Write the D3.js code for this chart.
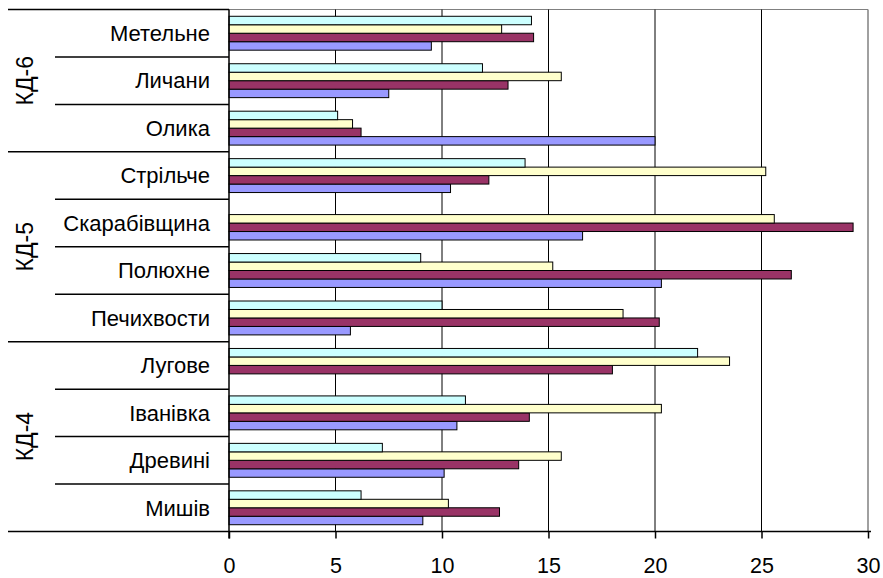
<!DOCTYPE html>
<html><head><meta charset="utf-8">
<script src="https://cdn.jsdelivr.net/npm/d3@7"></script>
<style>body{margin:0;background:#fff}svg{display:block}text{font-family:"Liberation Sans",Arial,sans-serif;fill:#000}</style>
</head><body><svg id="c" width="883" height="578"></svg>
<script>
// categories listed bottom to top (as in the source sheet)
const categories = ["Мишів","Древині","Іванівка","Лугове","Печихвости","Полюхне","Скарабівщина","Стрільче","Олика","Личани","Метельне"];
const groupNames = ["КД-4","КД-5","КД-6"];
const groupSizes = [4,4,3];
const seriesNames = ["Ряд1","Ряд2","Ряд3","Ряд4"];
const series1 = [9.1,10.1,10.7,null,5.7,20.3,16.6,10.4,20.0,7.5,9.5];
const series2 = [12.7,13.6,14.1,18.0,20.2,26.4,29.3,12.2,6.2,13.1,14.3];
const series3 = [10.3,15.6,20.3,23.5,18.5,15.2,25.6,25.2,5.8,15.6,12.8];
const series4 = [6.2,7.2,11.1,22.0,10.0,9.0,null,13.9,5.1,11.9,14.2];
const seriesColors = ["#9999FF","#993366","#FFFFCC","#CCFFFF"];
const xTicks = [0,5,10,15,20,25,30];

const svg = d3.select("#c");
const L = 229, R = 868, T = 9.5, B = 531.5;
const x = d3.scaleLinear().domain([0,30]).range([L,R]);
const y = d3.scaleBand().domain(categories.slice().reverse()).range([T,B]).padding(0);
const ySub = d3.scaleBand().domain(seriesNames.slice().reverse()).range([0,y.bandwidth()]).paddingInner(0).paddingOuter(0.8);
const allSeries = [series1,series2,series3,series4];

// plot border (gray top and right)
svg.append("line").attr("x1",L).attr("x2",R).attr("y1",T).attr("y2",T).attr("stroke","#808080").attr("stroke-width",1);
svg.append("line").attr("x1",R).attr("x2",R).attr("y1",T).attr("y2",B).attr("stroke","#808080").attr("stroke-width",1.5);
// gridlines
svg.append("g").selectAll("line").data(xTicks.filter(t=>t>0&&t<30)).join("line")
  .attr("x1",d=>x(d)).attr("x2",d=>x(d)).attr("y1",T).attr("y2",B).attr("stroke","#000").attr("stroke-width",1);

// bars
allSeries.forEach((vals,si)=>{
  svg.append("g").selectAll("rect").data(categories.map((c,i)=>({c,v:vals[i]})).filter(d=>d.v!=null)).join("rect")
    .attr("x",x(0)).attr("y",d=>y(d.c)+ySub(seriesNames[si]))
    .attr("width",d=>x(d.v)-x(0)).attr("height",ySub.bandwidth())
    .attr("fill",seriesColors[si]).attr("stroke","#000").attr("stroke-width",1);
});

// x axis
const xAxis = d3.axisBottom(x).tickValues(xTicks).tickSize(7).tickPadding(0).tickFormat(d3.format("d"));
const gx = svg.append("g").attr("transform",`translate(0,${B})`).call(xAxis);
gx.select(".domain").remove();
gx.selectAll(".tick line").attr("stroke","#000").attr("stroke-width",1.5);
gx.selectAll(".tick text").attr("font-size",21.5).attr("dy",null).attr("y",41.5).style("font-family","'Liberation Sans',Arial,sans-serif");
svg.append("line").attr("x1",8).attr("x2",R+3).attr("y1",B).attr("y2",B).attr("stroke","#000").attr("stroke-width",1.5);
// vertical category axis
svg.append("line").attr("x1",L).attr("x2",L).attr("y1",T).attr("y2",B+7).attr("stroke","#000").attr("stroke-width",1.5);

// category labels
svg.append("g").selectAll("text").data(categories).join("text")
  .attr("x",210).attr("y",d=>y(d)+y.bandwidth()/2+7.8).attr("text-anchor","end").attr("font-size",22).text(d=>d);

// separators
let idx = 0;
const groupBounds = [];
groupSizes.forEach((n,gi)=>{
  const bottomCat = categories[idx], topCat = categories[idx+n-1];
  const yb = y(bottomCat)+y.bandwidth(), yt = y(topCat);
  groupBounds.push({name:groupNames[gi], yt, yb});
  for(let k=1;k<n;k++){
    const yy = y(categories[idx+k])+y.bandwidth();
    svg.append("line").attr("x1",55).attr("x2",L).attr("y1",yy).attr("y2",yy).attr("stroke","#000").attr("stroke-width",1.5);
  }
  idx += n;
});
groupBounds.forEach(g=>{
  svg.append("line").attr("x1",8).attr("x2",L).attr("y1",g.yt).attr("y2",g.yt).attr("stroke","#000").attr("stroke-width",1.5);
  svg.append("text").attr("transform",`translate(33,${(g.yt+g.yb)/2}) rotate(-90)`).attr("text-anchor","middle").attr("font-size",23).text(g.name);
});
</script></body></html>
